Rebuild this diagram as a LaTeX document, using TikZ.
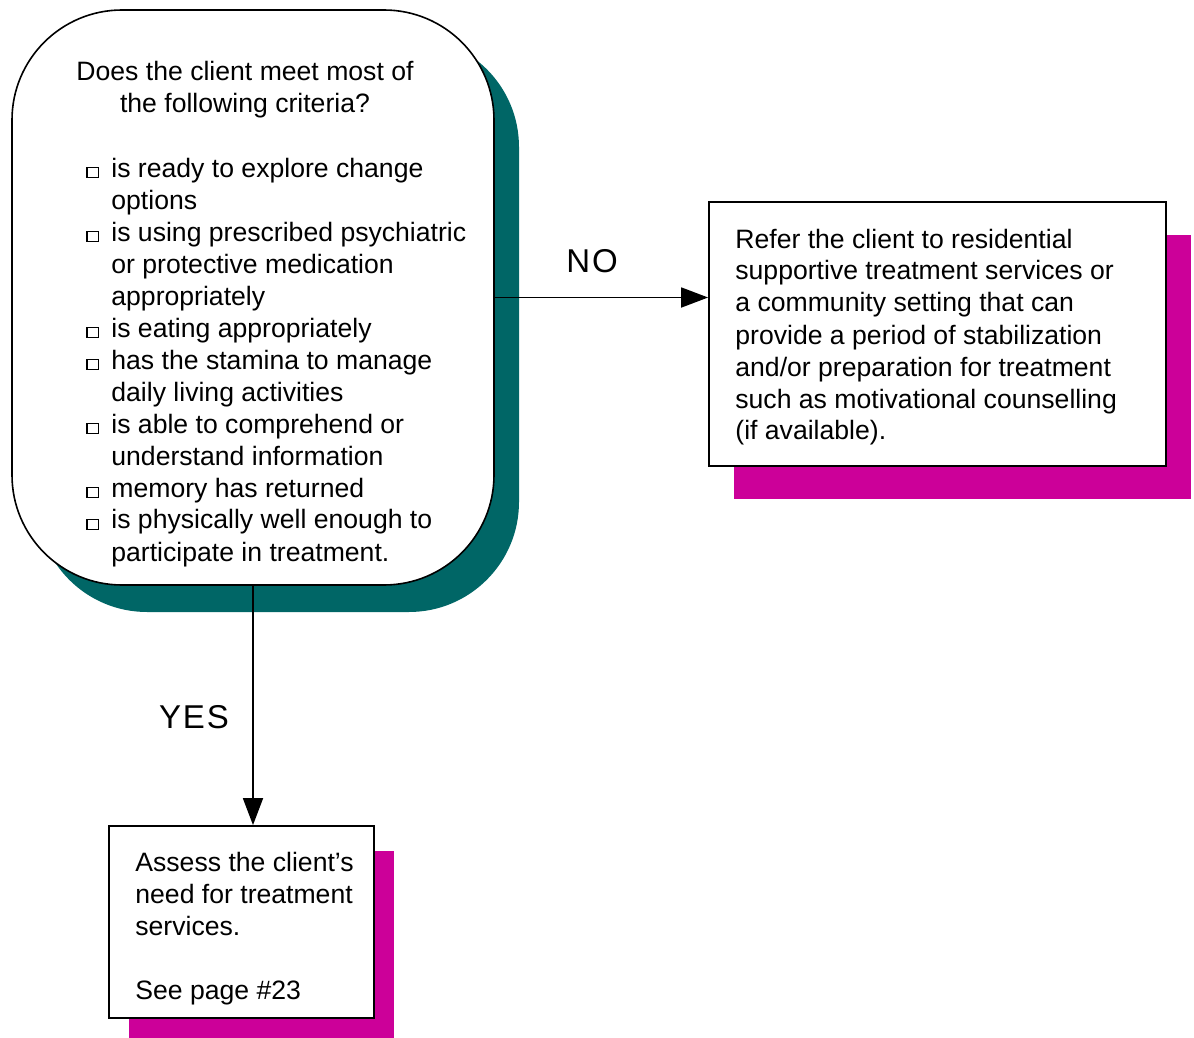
\documentclass[tikz,border=0pt]{standalone}
\usepackage{fontspec}
\setmainfont{Liberation Sans}
\usetikzlibrary{arrows.meta}
\definecolor{shteal}{RGB}{0,102,102}
\definecolor{shmag}{RGB}{204,0,153}
\newcommand\sqbul{\makebox[12.5pt][l]{\setlength\fboxsep{0pt}\setlength\fboxrule{0.6pt}\fbox{\rule{0pt}{4.3pt}\hspace{5pt}}}}
\newcommand\indt{\hspace*{12.5pt}}
\tikzset{
  body/.style={inner sep=0pt, font=\fontsize{13.3}{16}\selectfont},
  boxnode/.style={draw, line width=0.9pt, fill=white, inner sep=0pt},
  lbl/.style={inner sep=0pt, font=\fontsize{16.5}{19}\selectfont\addfontfeature{LetterSpace=6}},
  conn/.style={line width=0.9pt, -{Triangle[length=13.5pt,width=10pt]}}
}
\begin{document}
\begin{tikzpicture}[x=0.5pt,y=-0.5pt]
\useasboundingbox (0,0) rectangle (1194,1038);
% shadows
\fill[shteal, rounded corners=55pt] (37,37) rectangle (519,612);
\fill[shmag] (734,235) rectangle (1191,499);
\fill[shmag] (129,851) rectangle (394,1038);
% boxes
\node[boxnode, line width=0.8pt, rounded corners=55pt, minimum width=241pt, minimum height=287.5pt] (q) at (253,297.5) {};
\node[boxnode, minimum width=228.5pt, minimum height=132pt] (r) at (937.5,334) {};
\node[boxnode, minimum width=132.5pt, minimum height=96pt] (b) at (241.5,922) {};
% texts
\node[body, anchor=base] (qhead) at (245,81) {\parbox[t]{220pt}{\centering Does the client meet most of\\the following criteria?}};
\node[body, anchor=base west] (qlist) at (86,177) {\parbox[t]{220pt}{\raggedright
\sqbul is ready to explore change\\
\indt options\\
\sqbul is using prescribed psychiatric\\
\indt or protective medication\\
\indt appropriately\\
\sqbul is eating appropriately\\
\sqbul has the stamina to manage\\
\indt daily living activities\\
\sqbul is able to comprehend or\\
\indt understand information\\
\sqbul memory has returned\\
\sqbul is physically well enough to\\
\indt participate in treatment.}};
\node[body, anchor=base west] (rtext) at (735,248) {\parbox[t]{215pt}{\raggedright
Refer the client to residential\\
supportive treatment services or\\
a community setting that can\\
provide a period of stabilization\\
and/or preparation for treatment\\
such as motivational counselling\\
(if available).}};
\node[body, anchor=base west] (btext) at (135,871) {\parbox[t]{120pt}{\raggedright
Assess the client’s\\
need for treatment\\
services.\\[16pt]
See page \#23}};
% connectors
\draw[conn] (q.east) -- (q.east -| r.west);
\draw[conn] (q.south) -- (q.south |- b.north);
\node[lbl] (no) at (592,261) {NO};
\node[lbl] (yes) at (194,717) {YES};
\end{tikzpicture}
\end{document}
